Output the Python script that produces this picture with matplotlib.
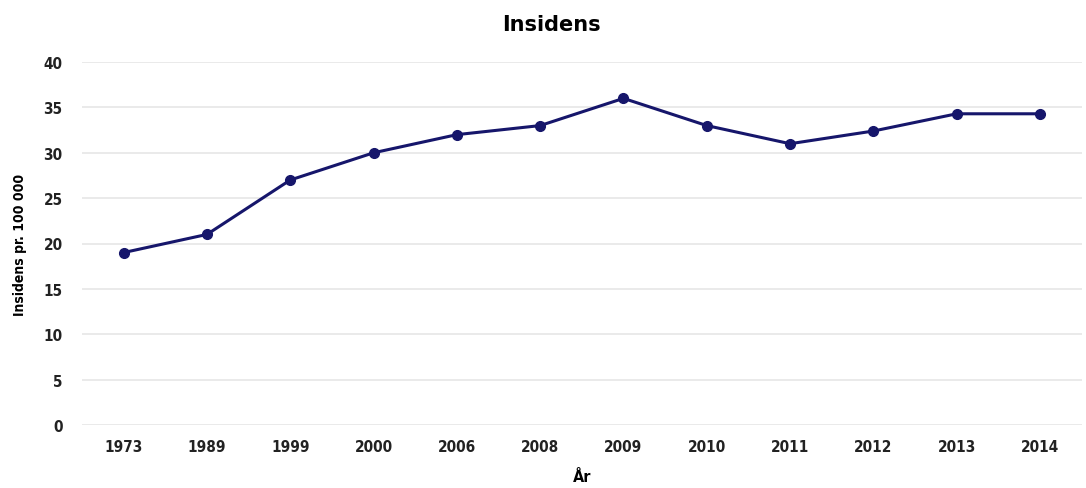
import matplotlib.pyplot as plt
import numpy as np

years = ['1973', '1989', '1999', '2000', '2006', '2008', '2009', '2010', '2011', '2012', '2013', '2014']
incidence = [19, 21, 27, 30, 32, 33, 36, 33, 31, 32.4, 34.3, 34.3]
yticks = [0, 5, 10, 15, 20, 25, 30, 35, 40]

fig = plt.figure(figsize=(10.86, 4.89), dpi=100)
ax = fig.add_axes([0.0755, 0.129, 0.9205, 0.742])

x = np.arange(len(years))
ax.plot(x, incidence, '-o', color='#16166b', linewidth=2.2, markersize=7, zorder=3)

ax.set_xlim(-0.5, len(years) - 0.5)
ax.set_ylim(0, 40)
ax.set_yticks(yticks)
ax.set_xticks(x)
ax.set_xticklabels(years)
ax.yaxis.grid(True, color='#e6e6e6', linewidth=1.2)
ax.set_axisbelow(True)
for s in ax.spines.values():
    s.set_visible(False)
ax.tick_params(length=0, labelsize=11, colors='#222222', pad=14)
ax.tick_params(axis='x', pad=10)
for lab in ax.get_xticklabels() + ax.get_yticklabels():
    lab.set_family('DejaVu Sans')
    lab.set_stretch('condensed')
    lab.set_fontweight('bold')

ax.set_xlabel('År', family='DejaVu Sans', stretch='condensed', fontweight='bold',
              fontsize=11.5, labelpad=11)
ax.set_ylabel('Insidens pr. 100 000', family='DejaVu Sans', stretch='condensed',
              fontweight='bold', fontsize=10, labelpad=12)
fig.suptitle('Insidens', x=0.508, y=0.97, family='DejaVu Sans',
             fontweight='bold', fontsize=15)

fig.savefig('out.png', dpi=100)
